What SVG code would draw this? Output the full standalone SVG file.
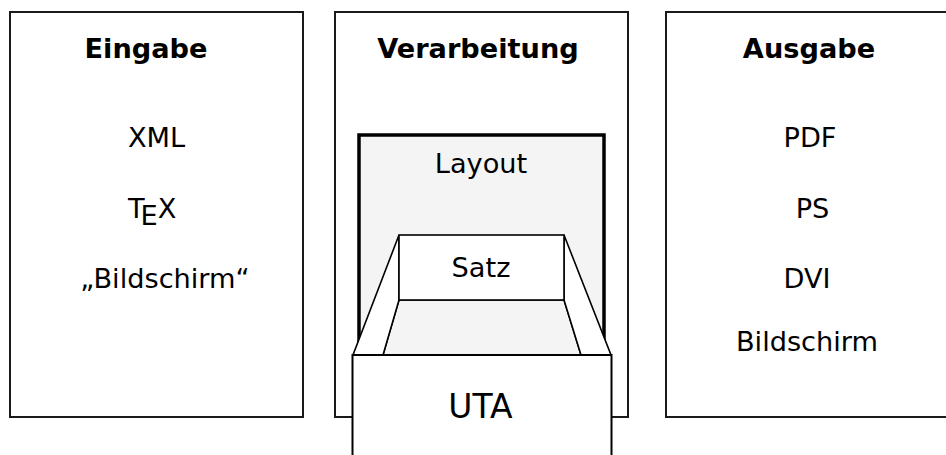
<svg xmlns="http://www.w3.org/2000/svg" width="946" height="455" viewBox="0 0 946 455">
  <style>
    .panel { fill: #ffffff; stroke: #1a1a1a; stroke-width: 2; }
    .title { font-family: "DejaVu Sans", sans-serif; font-weight: bold; font-size: 27.2px; fill: #000; text-anchor: middle; }
    .item { font-family: "DejaVu Sans", sans-serif; font-size: 27.2px; fill: #000; text-anchor: middle; }
    .thin { stroke: #000; stroke-width: 1.6; stroke-linejoin: miter; }
  </style>

  <!-- Eingabe -->
  <g id="eingabe">
    <rect class="panel" x="10" y="12" width="293" height="405"/>
    <text class="title" x="146" y="58">Eingabe</text>
    <text class="item" x="156.5" y="147">XML</text>
    <text class="item" x="128" y="218" style="text-anchor:start">T<tspan dx="-4" dy="7">E</tspan><tspan dx="0" dy="-7">X</tspan></text>
    <text class="item" x="165" y="288">„Bildschirm“</text>
  </g>

  <!-- Verarbeitung -->
  <g id="verarbeitung">
    <rect class="panel" x="335" y="12" width="293" height="405"/>
    <text class="title" x="478" y="58">Verarbeitung</text>
  </g>

  <!-- Layout -->
  <g id="layout">
    <rect x="359" y="135" width="245" height="240" fill="#f4f4f4" stroke="#000" stroke-width="3.5"/>
    <text class="item" x="481" y="173">Layout</text>
  </g>

  <!-- Satz with receding tray walls -->
  <g id="satz">
    <polygon class="thin" points="399,300 564,300 581,355 383,355" fill="#f4f4f4"/>
    <polygon class="thin" points="399,235 353,355 383,355 399,300" fill="#ffffff"/>
    <polygon class="thin" points="564,235 611,355 581,355 564,300" fill="#ffffff"/>
    <rect class="thin" x="399" y="235" width="165" height="65" fill="#ffffff"/>
    <text class="item" x="481" y="277">Satz</text>
  </g>

  <!-- UTA -->
  <g id="uta">
    <rect x="352.5" y="355" width="259" height="110" fill="#ffffff" stroke="#000" stroke-width="2"/>
    <text class="item" x="480.5" y="418" style="font-size:33px">UTA</text>
  </g>

  <!-- Ausgabe -->
  <g id="ausgabe">
    <rect class="panel" x="666" y="12" width="300" height="405"/>
    <text class="title" x="809" y="58">Ausgabe</text>
    <text class="item" x="810" y="147">PDF</text>
    <text class="item" x="812.5" y="218">PS</text>
    <text class="item" x="807" y="288">DVI</text>
    <text class="item" x="807" y="351">Bildschirm</text>
  </g>

  <g id="connectors"/>
</svg>
